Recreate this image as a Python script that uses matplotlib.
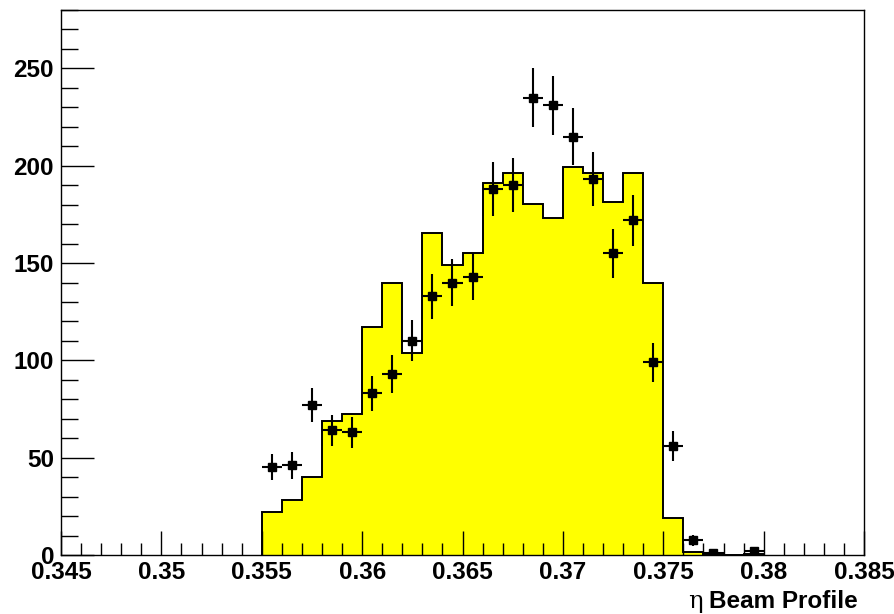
import numpy as np
import matplotlib
matplotlib.use("Agg")
import matplotlib.pyplot as plt
from matplotlib.ticker import MultipleLocator, FixedFormatter, FixedLocator

# bin edges: 0.001 wide, from 0.355
lo_edge = 0.355
bin_w = 0.001

# histogram (yellow) contents
hist_vals = [22, 28, 40, 69, 72.5, 117, 140, 104, 165.5, 149,
             155, 191, 196.5, 180.5, 173, 199.5, 196.5, 181.5, 196.5, 139.5,
             19, 1.5, 0.5, 0, 0.5]

# data points (black squares), counts per bin
pt_vals = [45, 46, 77, 64, 63, 83, 93, 110, 133, 140,
           143, 188, 190, 235, 231, 215, 193, 155, 172, 99,
           56, 7.5, 1, 0, 2]

edges = lo_edge + bin_w * np.arange(len(hist_vals) + 1)
centers = edges[:-1] + bin_w / 2

x_ticks = [0.345, 0.35, 0.355, 0.36, 0.365, 0.37, 0.375, 0.38, 0.385]
x_tick_labels = ["0.345", "0.35", "0.355", "0.36", "0.365", "0.37", "0.375", "0.38", "0.385"]
y_ticks = [0, 50, 100, 150, 200, 250]

plt.rcParams['font.family'] = ['Liberation Sans', 'DejaVu Sans']

fig = plt.figure(figsize=(8.95, 6.14), dpi=100)
ax = fig.add_axes([0.0682, 0.0961, 0.8972, 0.8876])

# gefuellte histogramm
ax.stairs(hist_vals, edges, fill=True, color="#ffff00", zorder=1)
ax.stairs(hist_vals, edges, color="black", linewidth=1.4, zorder=2)

# punkte mit sqrt(N) fehler, leere bins weglassen
pv = np.array(pt_vals, dtype=float)
m = pv > 0
ax.errorbar(centers[m], pv[m], xerr=bin_w / 2, yerr=np.sqrt(pv[m]),
            fmt="s", color="black", markersize=5.5, elinewidth=1.5,
            capsize=0, zorder=3)

ax.set_xlim(0.345, 0.385)
ax.set_ylim(0, 280)

ax.xaxis.set_major_locator(FixedLocator(x_ticks))
ax.xaxis.set_major_formatter(FixedFormatter(x_tick_labels))
ax.xaxis.set_minor_locator(MultipleLocator(0.001))
ax.yaxis.set_major_locator(FixedLocator(y_ticks))
ax.yaxis.set_minor_locator(MultipleLocator(10))

ax.tick_params(which="both", direction="in", top=False, right=False, width=1)
ax.tick_params(axis="y", which="major", length=24, pad=5)
ax.tick_params(axis="y", which="minor", length=12)
ax.tick_params(axis="x", which="major", length=17, pad=4)
ax.tick_params(axis="x", which="minor", length=9)

for lab in ax.get_xticklabels() + ax.get_yticklabels():
    lab.set_fontsize(17.5)
    lab.set_fontweight("bold")

for s in ax.spines.values():
    s.set_linewidth(1.0)

# achsentitel: eta duenn, rest fett
t = fig.text(858 / 895, 6 / 614, "Beam Profile", fontsize=17.5, fontweight="bold",
             ha="right", va="baseline")
fig.canvas.draw()
bb = t.get_window_extent()
fig.text((bb.x0 - 7) / 895, 6 / 614, "η", fontsize=17.5, family="DejaVu Serif",
         ha="right", va="baseline")

fig.savefig("out.png", dpi=100, facecolor="white")
